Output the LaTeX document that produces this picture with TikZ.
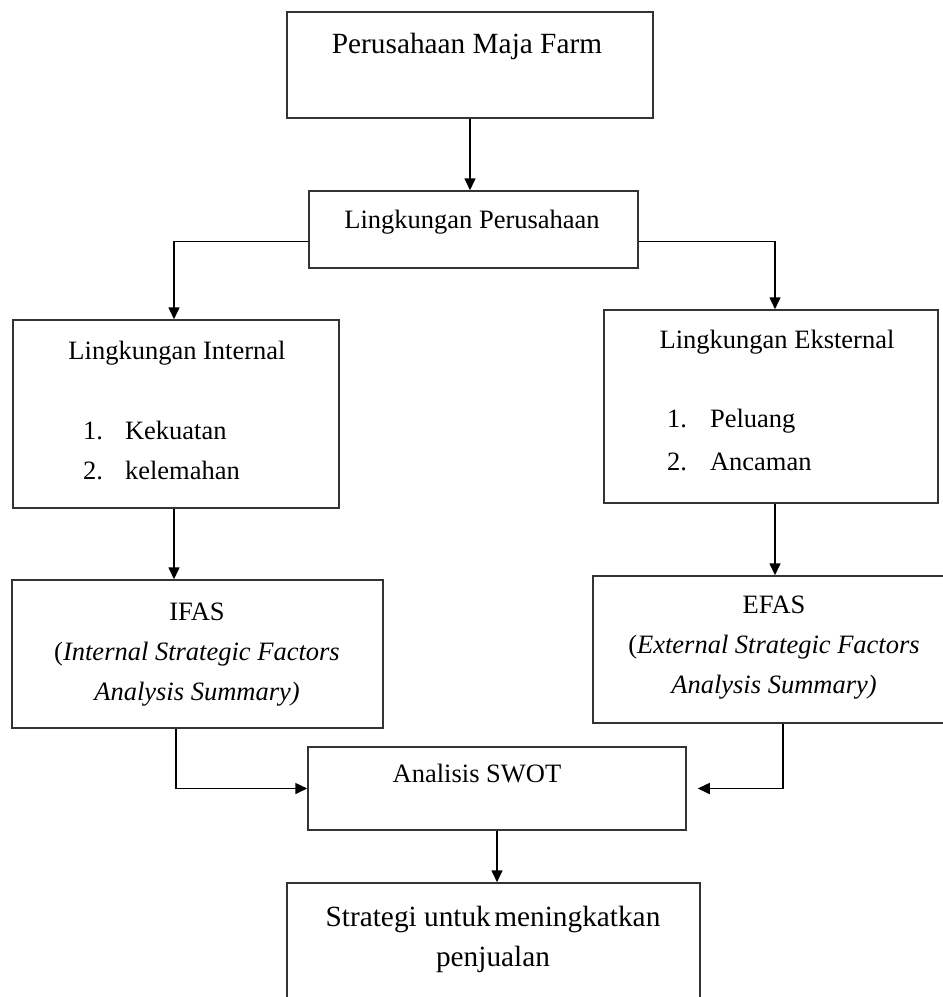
\documentclass[tikz,border=0pt]{standalone}
\usepackage{fontspec}
\setmainfont{Liberation Serif}
\usetikzlibrary{arrows.meta,positioning}

\begin{document}
\begin{tikzpicture}[x=1pt, y=-1pt,
      kotak/.style={draw=black!80, line width=1.5pt, inner sep=0pt},
      teks/.style={inner sep=0pt, anchor=base, align=center,
                   font=\fontsize{26.5}{40}\selectfont},
      teksbesar/.style={teks, font=\fontsize{29.3}{40}\selectfont},
      panah/.style={-{Triangle[length=12pt, width=11pt]}, line width=1.6pt}]
    \useasboundingbox (0,0) rectangle (943,997);
    \clip (0,0) rectangle (943,997);
    % kotak
    \node[kotak, minimum width=366pt, minimum height=106pt] (perusahaan) at (470,65)    {};
    \node[kotak, minimum width=329pt, minimum height=77pt]  (lingkungan) at (473.5,229.5) {};
    \node[kotak, minimum width=326pt, minimum height=188pt] (internal)   at (176,414)   {};
    \node[kotak, minimum width=334pt, minimum height=193pt] (eksternal)  at (771,406.5) {};
    \node[kotak, minimum width=371pt, minimum height=148pt] (ifas)       at (197.5,654) {};
    \node[kotak, minimum width=362pt, minimum height=147pt] (efas)       at (774,649.5) {};
    \node[kotak, minimum width=378pt, minimum height=83pt]  (swot)       at (497,788.5) {};
    \node[kotak, minimum width=413pt, minimum height=147pt] (strategi)   at (493.5,956.5) {};
    % teks
    \node[teksbesar] (tperusahaan) at (467,53) {Perusahaan Maja Farm};
    \node[teks] (tlingkungan) at (472,228) {Lingkungan Perusahaan};
    \node[teks] (tinternal)   at (177,359) {Lingkungan Internal};
    \node[teks, anchor=base west] (dinternal) at (83,439)
        {\begin{tabular}[t]{@{}l@{\hspace{22pt}}l@{}}1. & Kekuatan\\2. & kelemahan\end{tabular}};
    \node[teks] (teksternal)  at (777,348) {Lingkungan Eksternal};
    \node[teks, anchor=base west] (deksternal) at (667,427)
        {\begin{tabular}[t]{@{}l@{\hspace{23pt}}l@{}}1. & Peluang\\[3pt]2. & Ancaman\end{tabular}};
    \node[teks] (tifas) at (197,620)
        {\begin{tabular}[t]{@{}c@{}}IFAS\\(\textit{Internal Strategic Factors}\\\textit{Analysis Summary)}\end{tabular}};
    \node[teks] (tefas) at (774,613)
        {\begin{tabular}[t]{@{}c@{}}EFAS\\(\textit{External Strategic Factors}\\\textit{Analysis Summary)}\end{tabular}};
    \node[teks] (tswot) at (477,782) {Analisis SWOT};
    \node[teksbesar] (tstrategi) at (493,926)
        {\begin{tabular}[t]{@{}c@{}}Strategi untuk\hspace{0.12em}meningkatkan\\penjualan\end{tabular}};
    % panah
    \draw[panah] (perusahaan.south) -- (perusahaan.south |- lingkungan.north);
    \draw[panah] ([yshift=-12pt]lingkungan.west) -| ([xshift=-2pt]internal.north);
    \draw[panah] ([yshift=-12pt]lingkungan.east) -| ([xshift=4pt]eksternal.north);
    \draw[panah] ([xshift=-2pt]internal.south) -- ([xshift=-2pt]internal.south |- ifas.north);
    \draw[panah] ([xshift=4pt]eksternal.south) -- ([xshift=4pt]eksternal.south |- efas.north);
    \draw[panah] (ifas.south -| internal.south) |- (swot.west);
    \draw[panah, shorten >=11pt] ([xshift=9pt]efas.south) |- (swot.east);
    \draw[panah] (swot.south) -- (swot.south |- strategi.north);
\end{tikzpicture}
\end{document}
